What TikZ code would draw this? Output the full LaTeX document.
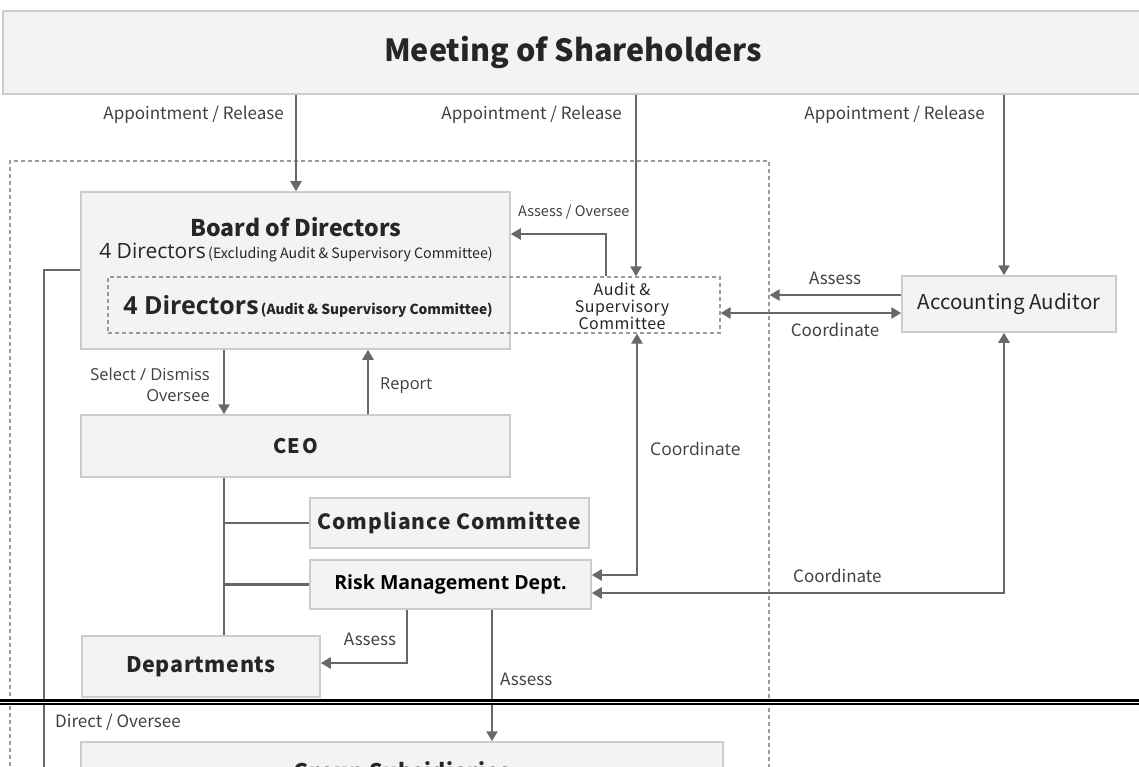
\documentclass[tikz,border=0pt]{standalone}
\usepackage{fontspec}
\setmainfont{Noto Sans CJK JP}
\newfontfamily\osans{Open Sans}
\usetikzlibrary{arrows.meta}
\definecolor{boxfill}{HTML}{F3F3F3}
\definecolor{boxline}{HTML}{CCCCCC}
\definecolor{lnc}{HTML}{686868}
\definecolor{txt}{HTML}{262626}
\definecolor{lbl}{HTML}{404040}
\definecolor{dashc}{HTML}{9A9A9A}
\begin{document}
\begin{tikzpicture}[x=1pt,y=-1pt,
 box/.style={draw=boxline,fill=boxfill,line width=1.5pt,inner sep=0pt,text=txt},
 dbox/.style={draw=dashc,line width=1.2pt,dash pattern=on 4pt off 3pt,inner sep=0pt},
 conn/.style={draw=lnc,line width=2.4pt},
 arr/.style={conn,-{Triangle[length=10pt,width=11pt]}},
 darr/.style={conn,{Triangle[length=10pt,width=11pt]}-{Triangle[length=10pt,width=11pt]}},
 lab/.style={font=\fontsize{17}{19}\selectfont,text=lbl,inner sep=0pt},
 olab/.style={font=\osans\fontsize{16.5}{21}\selectfont,text=lbl,inner sep=0pt},
]
\useasboundingbox (0,0) rectangle (1139,767);
\clip (0,0) rectangle (1139,767);
\fill[white] (0,0) rectangle (1139,767);

% frame
\node[dbox,minimum width=759pt,minimum height=800pt] (frame) at (389.5,561) {};

% boxes
\node[box,minimum width=1140pt,minimum height=83pt,font=\bfseries\fontsize{30.5}{32}\selectfont] (gms) at (573,52.5) {Meeting of Shareholders};
\node[box,minimum width=429pt,minimum height=157pt] (bod) at (295.5,270.5) {};
\node[text=txt,font=\bfseries\fontsize{23}{26}\selectfont,inner sep=0pt] (bodt) at (296,227) {Board of Directors};
\node[text=txt,inner sep=0pt] (bodx) at (296,253) {{\osans\fontsize{21}{24}\selectfont 4 Directors} {\fontsize{14.2}{16}\selectfont (Excluding Audit \& Supervisory Committee)}};
\node[dbox,minimum width=612pt,minimum height=56pt] (acb) at (414,305) {};
\node[text=txt,inner sep=0pt] (bodi) at (308,307) {{\osans\bfseries\fontsize{25}{27}\selectfont 4 Directors} {\bfseries\fontsize{13.8}{15}\selectfont (Audit \& Supervisory Committee)}};
\node[text=txt,align=center,font=\fontsize{16}{17}\selectfont\addfontfeature{LetterSpace=3},inner sep=0pt] (act) at (622,306) {Audit \&\\Supervisory\\Committee};
\node[box,minimum width=214pt,minimum height=56pt,font=\fontsize{20.5}{22}\selectfont] (aud) at (1009,304) {Accounting Auditor};
\node[box,minimum width=429pt,minimum height=62pt,font=\bfseries\fontsize{20}{22}\selectfont\addfontfeature{LetterSpace=8}] (ceo) at (295.5,446) {CEO};
\node[box,minimum width=279pt,minimum height=50pt,font=\bfseries\fontsize{21}{24}\selectfont\addfontfeature{LetterSpace=4}] (cmp) at (449.5,523) {Compliance Committee};
\node[box,minimum width=281pt,minimum height=49pt,font=\osans\bfseries\fontsize{19.5}{22}\selectfont,text=black] (rsk) at (450.5,584.5) {Risk Management Dept.};
\node[box,minimum width=238pt,minimum height=61pt,font=\bfseries\fontsize{21.5}{24}\selectfont\addfontfeature{LetterSpace=3}] (dep) at (201,666.5) {Departments};
\node[box,minimum width=642pt,minimum height=62pt,font=\bfseries\fontsize{21.5}{24}\selectfont\addfontfeature{LetterSpace=3}] (grp) at (402,773) {Group Subsidiaries};

% helper coordinates
\coordinate (c1) at (296,0);
\coordinate (c2) at (636,0);
\coordinate (c3) at (1004,0);
\coordinate (c4) at (606,234);
\coordinate (c5) at (224,0);
\coordinate (c6) at (368,0);
\coordinate (c7) at (637,575);
\coordinate (c8) at (1004,593);
\coordinate (c9) at (407,663);
\coordinate (c10) at (492,0);
\coordinate (c11) at (44,270);

% connectors
\draw[arr] (gms.south -| c1) -- (bod.north -| c1);
\draw[arr] (gms.south -| c2) -- (acb.north -| c2);
\draw[arr] (gms.south -| c3) -- (aud.north -| c3);
\draw[arr] (acb.north -| c4) -- (c4) -- (bod.east |- c4);
\draw[arr] ([yshift=9pt]aud.west) -- ([yshift=9pt]aud.west -| frame.east);
\draw[darr] ([yshift=-9pt]aud.west) -- ([yshift=-9pt]aud.west -| acb.east);
\draw[arr] (bod.south -| c5) -- (ceo.north -| c5);
\draw[arr] (ceo.north -| c6) -- (bod.south -| c6);
\draw[conn] (ceo.south -| c5) -- (dep.north -| c5);
\draw[conn] (cmp.west -| c5) -- (cmp.west);
\draw[conn] (rsk.west -| c5) -- (rsk.west);
\draw[darr] (acb.south -| c7) -- (c7) -- (rsk.east |- c7);
\draw[darr] (aud.south -| c8) -- (c8) -- (rsk.east |- c8);
\draw[arr] (rsk.south -| c9) -- (c9) -- (dep.east |- c9);
\draw[arr] (rsk.south -| c10) -- (grp.north -| c10);
\draw[arr] (bod.west |- c11) -- (c11) -- (c11 |- grp.west) -- (grp.west);

% labels
\node[lab,anchor=east] (l1) at (284,115) {Appointment / Release};
\node[lab,anchor=east] (l2) at (622,115) {Appointment / Release};
\node[lab,anchor=east] (l3) at (985,115) {Appointment / Release};
\node[lab,anchor=west,font=\fontsize{14.5}{16}\selectfont] (l4) at (518,212) {Assess / Oversee};
\node[lab] (l5) at (835,278) {Assess};
\node[lab] (l6) at (835,330) {Coordinate};
\node[olab,anchor=east,align=right] (l7) at (210,384.5) {Select / Dismiss\\Oversee};
\node[olab,anchor=west] (l8) at (380,386) {Report};
\node[olab,anchor=west,font=\osans\fontsize{17.5}{21}\selectfont] (l9) at (650,449) {Coordinate};
\node[lab,anchor=west] (l10) at (793,576) {Coordinate};
\node[lab] (l11) at (370,639) {Assess};
\node[lab,anchor=west] (l12) at (500,679) {Assess};
\node[lab,anchor=west] (l13) at (55,722) {Direct / Oversee};

% cut marks
\fill[white] (0,699.2) rectangle (1139,704.9);
\draw[black,line width=2.4pt] (0,700.6) -- (1139,700.6);
\draw[black,line width=2.4pt] (0,703.8) -- (1139,703.8);
\end{tikzpicture}
\end{document}
